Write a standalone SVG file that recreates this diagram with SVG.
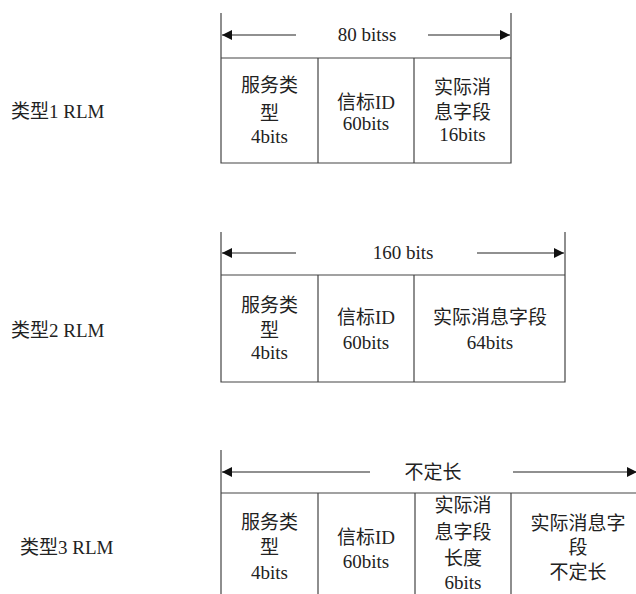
<svg xmlns="http://www.w3.org/2000/svg" width="636" height="594" viewBox="0 0 636 594">
<style>
text{font-family:"Liberation Serif","Noto Sans CJK SC",serif;font-size:19px;fill:#222;text-anchor:middle}
.lbl{text-anchor:start}
.ln{stroke:#444;stroke-width:1.2;fill:none}
.ar{stroke:#222;stroke-width:1.2;fill:none}
</style>
<defs>
<marker id="ah" viewBox="0 0 10 10" refX="10" refY="5" markerWidth="10" markerHeight="10" markerUnits="userSpaceOnUse" orient="auto">
<path d="M0,0 L10,5 L0,10 Z" fill="#111"/>
</marker>
</defs>
<rect width="636" height="594" fill="#fff"/>

<g id="labels">
<text class="lbl" x="11" y="118">类型1 RLM</text>
<text class="lbl" x="11" y="337">类型2 RLM</text>
<text class="lbl" x="20" y="554">类型3 RLM</text>
</g>

<g id="connectors">
<path class="ar" d="M296,35 H222" marker-end="url(#ah)"/>
<path class="ar" d="M428,35 H510" marker-end="url(#ah)"/>
<path class="ar" d="M296,253 H222" marker-end="url(#ah)"/>
<path class="ar" d="M477,253 H564" marker-end="url(#ah)"/>
<path class="ar" d="M370,472 H222" marker-end="url(#ah)"/>
<path class="ar" d="M513,472 H637" marker-end="url(#ah)"/>
</g>

<g id="rlm1">
<path class="ln" d="M221,13 V163 H511 V13 M221,58 H511 M318,58 V163 M414,58 V163"/>
<text x="367" y="41">80 bitss</text>
<text x="269.5" y="92">服务类</text>
<text x="269.5" y="120">型</text>
<text x="269.5" y="143">4bits</text>
<text x="366" y="109">信标ID</text>
<text x="366" y="130">60bits</text>
<text x="462.5" y="94">实际消</text>
<text x="462.5" y="119">息字段</text>
<text x="462.5" y="141">16bits</text>
</g>

<g id="rlm2">
<path class="ln" d="M221,232 V382 H565 V232 M221,275 H565 M318,275 V382 M414,275 V382"/>
<text x="403" y="259">160 bits</text>
<text x="269.5" y="312">服务类</text>
<text x="269.5" y="337">型</text>
<text x="269.5" y="359">4bits</text>
<text x="366" y="324">信标ID</text>
<text x="366" y="349">60bits</text>
<text x="490" y="324">实际消息字段</text>
<text x="490" y="349">64bits</text>
</g>

<g id="rlm3">
<path class="ln" d="M221,450 V594 M221,493 H636 M318,493 V594 M415,493 V594 M511,493 V594"/>
<text x="433" y="479">不定长</text>
<text x="269.5" y="529">服务类</text>
<text x="269.5" y="554">型</text>
<text x="269.5" y="579">4bits</text>
<text x="366" y="544">信标ID</text>
<text x="366" y="568">60bits</text>
<text x="463" y="512">实际消</text>
<text x="463" y="539">息字段</text>
<text x="463" y="565">长度</text>
<text x="463" y="589">6bits</text>
<text x="578" y="530">实际消息字</text>
<text x="578" y="554">段</text>
<text x="578" y="579">不定长</text>
</g>
</svg>
